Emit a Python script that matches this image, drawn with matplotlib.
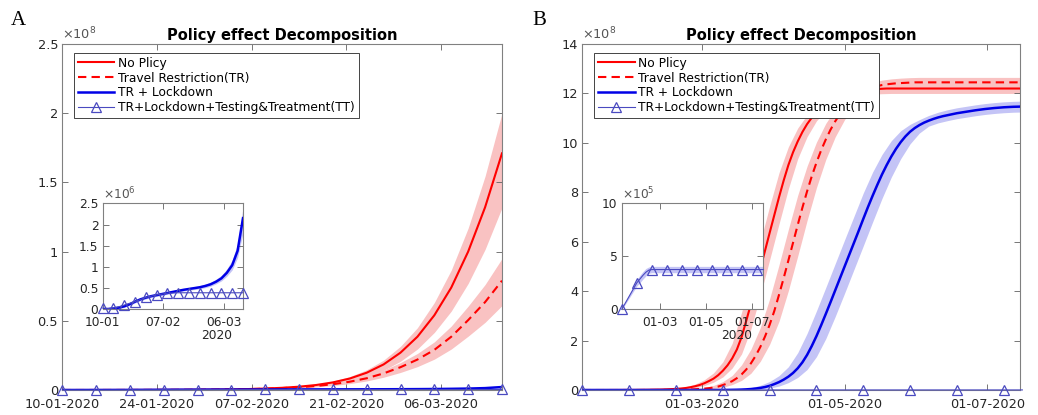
"""
Descomposicion del efecto de politicas (paneles A y B) con insets.
Genera out.png
"""
import datetime as dt
import matplotlib
matplotlib.use("Agg")
import matplotlib.pyplot as plt
import matplotlib.dates as mdates
import numpy as np
from matplotlib.lines import Line2D
from matplotlib.ticker import FuncFormatter

INICIO = dt.datetime(2020, 1, 10)

# ---------------- Panel A (dias desde 10-01-2020, valores x1e8) ----------------
dias_a = [0, 2.5, 5, 7.5, 10, 12.5, 15, 17.5, 20, 22.5, 25, 27.5, 30, 32.5,
          35, 37.5, 40, 42.5, 45, 47.5, 50, 52.5, 55, 57.5, 60, 62.5, 65]

a_sin = [0.0001, 0.0001, 0.0002, 0.0003, 0.0004, 0.0006, 0.0009, 0.0013, 0.002, 0.003,
         0.0046, 0.007, 0.0105, 0.016, 0.024, 0.036, 0.055, 0.083, 0.125, 0.185,
         0.27, 0.385, 0.54, 0.74, 1.00, 1.32, 1.71]
a_sin_hi = [0.0001, 0.0001, 0.0002, 0.0004, 0.0005, 0.0007, 0.0011, 0.0015, 0.0023, 0.0035,
            0.0054, 0.0082, 0.0123, 0.0187, 0.028, 0.042, 0.064, 0.097, 0.146, 0.216,
            0.316, 0.45, 0.632, 0.866, 1.17, 1.545, 2.0]
a_sin_lo = [0.0001, 0.0001, 0.0002, 0.0002, 0.0003, 0.0005, 0.0007, 0.001, 0.0015, 0.0023,
            0.0035, 0.0054, 0.0081, 0.0123, 0.0185, 0.0277, 0.042, 0.064, 0.096, 0.142,
            0.208, 0.296, 0.416, 0.57, 0.77, 1.016, 1.317]

a_tr = [0.0001, 0.0001, 0.0002, 0.0003, 0.0005, 0.0007, 0.001, 0.0014, 0.002, 0.003,
        0.0045, 0.0065, 0.0095, 0.014, 0.02, 0.029, 0.042, 0.06, 0.085, 0.12,
        0.165, 0.22, 0.29, 0.385, 0.505, 0.635, 0.79]
a_tr_hi = [0.0001, 0.0001, 0.0002, 0.0004, 0.0006, 0.0008, 0.0012, 0.0017, 0.0024, 0.0036,
           0.0054, 0.0078, 0.0114, 0.0168, 0.024, 0.035, 0.05, 0.072, 0.102, 0.144,
           0.198, 0.264, 0.348, 0.462, 0.606, 0.762, 0.95]
a_tr_lo = [0.0001, 0.0001, 0.0002, 0.0002, 0.0004, 0.0005, 0.0008, 0.0011, 0.0015, 0.0023,
           0.0035, 0.005, 0.0073, 0.0108, 0.0154, 0.0223, 0.0323, 0.0462, 0.0655, 0.0924,
           0.127, 0.169, 0.223, 0.296, 0.389, 0.489, 0.61]

# TR + Lockdown y TT en x1e6 (escala del inset)
a_lock = [0.0, 0.005, 0.02, 0.04, 0.07, 0.12, 0.18, 0.235, 0.275, 0.31,
          0.335, 0.36, 0.385, 0.41, 0.435, 0.46, 0.48, 0.5, 0.52, 0.55,
          0.59, 0.65, 0.73, 0.86, 1.04, 1.38, 2.15]
a_lock_hi = [0.01, 0.02, 0.04, 0.065, 0.1, 0.15, 0.21, 0.265, 0.305, 0.34,
             0.365, 0.39, 0.415, 0.44, 0.465, 0.49, 0.515, 0.535, 0.56, 0.595,
             0.64, 0.71, 0.8, 0.95, 1.16, 1.55, 2.4]
a_lock_lo = [0.0, 0.0, 0.005, 0.02, 0.045, 0.09, 0.15, 0.205, 0.245, 0.28,
             0.305, 0.33, 0.355, 0.38, 0.405, 0.43, 0.45, 0.465, 0.485, 0.51,
             0.545, 0.6, 0.67, 0.78, 0.93, 1.22, 1.8]
a_tt = [0.03, 0.02, 0.03, 0.06, 0.1, 0.14, 0.18, 0.23, 0.28, 0.31,
        0.34, 0.36, 0.38, 0.385] + [0.39] * 13

# ---------------- Panel B (dias desde 10-01-2020, valores x1e8) ----------------
# lineas centrales: malla mas fina en la zona de subida
dias_b_linea = list(range(0, 41, 4)) + list(range(42, 161, 2)) + list(range(164, 189, 4))

b_sin = ([0, 0, 0, 0.001, 0.002, 0.003, 0.005, 0.01, 0.016, 0.027, 0.045] +
         [0.06, 0.08, 0.11, 0.15, 0.2, 0.27, 0.36, 0.46, 0.6, 0.78,
          1.0, 1.28, 1.64, 2.14, 2.8, 3.48, 4.18, 4.9, 5.63, 6.36,
          7.08, 7.8, 8.48, 9.1, 9.62, 10.06, 10.44, 10.76, 11.02, 11.24,
          11.42, 11.57, 11.7, 11.8, 11.88, 11.95, 12.01, 12.06, 12.1, 12.13,
          12.15, 12.17, 12.18, 12.19, 12.2] + [12.2] * 22)
b_tr = ([0, 0, 0, 0, 0, 0.001, 0.001, 0.002, 0.003, 0.005, 0.008] +
        [0.012, 0.017, 0.023, 0.031, 0.042, 0.056, 0.075, 0.1, 0.14, 0.2,
         0.27, 0.36, 0.48, 0.63, 0.83, 1.08, 1.38, 1.74, 2.16, 2.64,
         3.2, 3.85, 4.53, 5.24, 5.96, 6.68, 7.38, 8.04, 8.65, 9.2,
         9.7, 10.14, 10.53, 10.87, 11.16, 11.41, 11.62, 11.8, 11.95, 12.07,
         12.17, 12.24, 12.3, 12.34, 12.37, 12.39, 12.41, 12.42, 12.43, 12.44] +
        [12.45] * 17)
b_lock = ([0] * 11 +
          [0, 0, 0, 0, 0, 0, 0.001, 0.001, 0.002, 0.003,
           0.005, 0.008, 0.012, 0.018, 0.027, 0.04, 0.06, 0.085, 0.12, 0.17,
           0.24, 0.32, 0.42, 0.54, 0.69, 0.88, 1.12, 1.42, 1.78, 2.18,
           2.62, 3.08, 3.55, 4.03, 4.51, 4.99, 5.47, 5.95, 6.43, 6.92,
           7.4, 7.86, 8.3, 8.72, 9.1, 9.45, 9.76, 10.03, 10.26, 10.45,
           10.6, 10.72, 10.82, 10.9, 10.97, 11.03, 11.08, 11.12, 11.16, 11.2] +
          [11.26, 11.32, 11.37, 11.41, 11.44, 11.46, 11.47])

# bandas y TT: malla cada 4 dias
dias_b = list(range(0, 189, 4))

b_sin_hi = ([0, 0, 0.001, 0.001, 0.002, 0.004, 0.007, 0.012, 0.02, 0.035] +
            [0.07, 0.13, 0.235, 0.41, 0.69, 1.14, 1.89, 3.14, 4.54, 6.0,
             7.44, 8.79, 9.84, 10.6, 11.13, 11.5, 11.77, 12.0, 12.15, 12.26,
             12.33, 12.37, 12.39] + [12.4] * 15)
b_sin_lo = ([0, 0, 0, 0, 0.001, 0.002, 0.004, 0.007, 0.012, 0.02] +
            [0.03, 0.052, 0.095, 0.175, 0.315, 0.53, 0.89, 1.46, 2.47, 3.83,
             5.27, 6.72, 8.14, 9.36, 10.25, 10.89, 11.33, 11.6, 11.75, 11.86,
             11.93, 11.97, 11.99] + [12.0] * 15)
b_tr_hi = ([0, 0, 0, 0, 0, 0.001, 0.002, 0.004, 0.006, 0.01] +
           [0.016, 0.029, 0.052, 0.094, 0.185, 0.34, 0.59, 1.02, 1.65, 2.52,
            3.69, 5.06, 6.5, 7.88, 9.06, 10.03, 10.79, 11.36, 11.76, 12.04,
            12.27, 12.44, 12.54, 12.59, 12.62, 12.64] + [12.65] * 12)
b_tr_lo = ([0, 0, 0, 0, 0, 0, 0.001, 0.002, 0.003, 0.004] +
           [0.006, 0.01, 0.018, 0.034, 0.061, 0.11, 0.22, 0.39, 0.68, 1.16,
            1.85, 2.78, 4.02, 5.42, 6.86, 8.19, 9.33, 10.24, 10.94, 11.46,
            11.85, 12.04, 12.14, 12.19, 12.22, 12.24] + [12.25] * 12)
b_lock_hi = ([0] * 13 +
             [0.001, 0.0035, 0.009, 0.02, 0.045, 0.094, 0.19, 0.345, 0.58, 0.94,
              1.51, 2.29, 3.2, 4.15, 5.11, 6.07, 7.02, 7.97, 8.82, 9.53,
              10.09, 10.49, 10.75, 10.94, 11.11, 11.24, 11.34, 11.42, 11.48, 11.54,
              11.59, 11.63, 11.66, 11.68, 11.69])
b_lock_lo = ([0] * 15 +
             [0.001, 0.003, 0.007, 0.016, 0.037, 0.079, 0.158, 0.3, 0.51, 0.83,
              1.35, 2.08, 2.97, 3.91, 4.87, 5.83, 6.8, 7.75, 8.62, 9.36,
              9.96, 10.4, 10.68, 10.81, 10.9, 10.98, 11.04, 11.1, 11.15, 11.19,
              11.22, 11.24, 11.25])

# TT en x1e5 (escala del inset B)
b_tt = [0, 0.5, 1.0, 1.5, 2.0, 2.5, 2.85, 3.2, 3.5, 3.7] + [3.75] * 38
b_tt_hi = [0.1, 0.6, 1.15, 1.7, 2.25, 2.8, 3.2, 3.55, 3.85, 4.0] + [4.05] * 38
b_tt_lo = [0, 0.4, 0.85, 1.3, 1.75, 2.2, 2.5, 2.85, 3.15, 3.4] + [3.45] * 38

etiquetas = ["No Plicy", "Travel Restriction(TR)", "TR + Lockdown",
             "TR+Lockdown+Testing&Treatment(TT)"]

ROJO, AZUL, AZUL_TT = "#ff0000", "#0000e6", "#4a4ac0"
BANDA_R, BANDA_A = "#f9c2c2", "#c4c4f6"
GRIS = "#262626"


def fechas(dias):
    return [INICIO + dt.timedelta(days=float(d)) for d in dias]


def estilo(ax, fs, padx):
    for s in ax.spines.values():
        s.set_color("#808080")
        s.set_linewidth(0.8)
    ax.tick_params(direction="in", top=True, right=True, length=4, width=0.6,
                   color="#606060", labelsize=fs, labelcolor=GRIS, pad=3)
    ax.tick_params(axis="x", pad=padx)
    ax.yaxis.set_major_formatter(FuncFormatter(lambda v, p: f"{v:g}"))


def banda(ax, x, lo, hi, color):
    ax.fill_between(x, lo, hi, color=color, lw=0, zorder=1)


def escala(ax, exp, fs):
    ax.text(0.0, 1.005, r"$\times10^{%d}$" % exp, transform=ax.transAxes,
            ha="left", va="bottom", fontsize=fs, color="#555555")


def linea_tt(ax, x, y, cada):
    ax.plot(x, y, color=AZUL_TT, lw=0.8, marker="^", ms=7, mfc="none",
            mec=AZUL_TT, mew=0.9, markevery=cada, zorder=5, clip_on=False)


fig = plt.figure(figsize=(10.38, 4.15), dpi=100)
axA = fig.add_axes([0.0600, 0.0602, 0.4236, 0.8337])
axB = fig.add_axes([0.5611, 0.0602, 0.4216, 0.8337])

# ---- Panel A ----
xa = fechas(dias_a)
f_a = 1 / 100  # x1e6 -> x1e8
banda(axA, xa, a_sin_lo, a_sin_hi, BANDA_R)
banda(axA, xa, a_tr_lo, a_tr_hi, BANDA_R)
banda(axA, xa, np.array(a_lock_lo) * f_a, np.array(a_lock_hi) * f_a, BANDA_A)
axA.plot(xa, a_sin, color=ROJO, lw=1.5, zorder=3)
axA.plot(xa, a_tr, color=ROJO, lw=1.5, ls=(0, (4, 2.5)), zorder=3)
axA.plot(xa, np.array(a_lock) * f_a, color=AZUL, lw=1.8, zorder=4)
linea_tt(axA, xa, np.array(a_tt) * f_a, 2)
axA.set_xlim(fechas([0, 65]))
axA.set_ylim(0, 2.5)
axA.set_yticks([0, 0.5, 1, 1.5, 2, 2.5])
axA.set_xticks(fechas([0, 14, 28, 42, 56]))
axA.xaxis.set_major_formatter(mdates.DateFormatter("%d-%m-%Y"))

# ---- Panel B ----
xb = fechas(dias_b)
xbl = fechas(dias_b_linea)
banda(axB, xb, b_sin_lo, b_sin_hi, BANDA_R)
banda(axB, xb, b_tr_lo, b_tr_hi, BANDA_R)
banda(axB, xb, b_lock_lo, b_lock_hi, BANDA_A)
axB.plot(xbl, b_sin, color=ROJO, lw=1.5, zorder=3)
axB.plot(xbl, b_tr, color=ROJO, lw=1.5, ls=(0, (4, 2.5)), zorder=3)
axB.plot(xbl, b_lock, color=AZUL, lw=1.8, zorder=4)
linea_tt(axB, xb, np.array(b_tt) / 1000, 5)
axB.set_xlim(fechas([0, 187]))
axB.set_ylim(0, 14)
axB.set_yticks(range(0, 15, 2))
axB.set_xticks([dt.datetime(2020, 3, 1), dt.datetime(2020, 5, 1), dt.datetime(2020, 7, 1)])
axB.xaxis.set_major_formatter(mdates.DateFormatter("%d-%m-%Y"))

proxies = [Line2D([], [], color=ROJO, lw=1.5),
           Line2D([], [], color=ROJO, lw=1.5, ls=(0, (4, 2.5))),
           Line2D([], [], color=AZUL, lw=1.8),
           Line2D([], [], color=AZUL_TT, lw=0.8, marker="^", ms=7, mfc="none", mew=0.9)]

for ax, letra, xl in [(axA, "A", 0.018), (axB, "B", 0.52)]:
    estilo(ax, 9.3, 6)
    ax.set_title("Policy effect Decomposition", fontsize=10.5, fontweight="bold", pad=3)
    escala(ax, 8, 9.3)
    leg = ax.legend(proxies, etiquetas, loc="upper left", bbox_to_anchor=(0.027, 0.974),
                    borderaxespad=0, fontsize=8.8, handlelength=3.0, labelspacing=0.15,
                    handletextpad=0.3, borderpad=0.3, numpoints=1, fancybox=False,
                    framealpha=1, edgecolor=GRIS)
    leg.get_frame().set_linewidth(0.6)
    leg.set_zorder(10)
    fig.text(xl, 0.95, letra, fontsize=15, family="Liberation Serif", ha="center", va="center")

# ---- Inset A ----
inA = fig.add_axes([0.0989, 0.2547, 0.1352, 0.2554])
banda(inA, xa, a_lock_lo, a_lock_hi, BANDA_A)
inA.plot(xa, a_lock, color=AZUL, lw=1.8, zorder=3)
linea_tt(inA, xa, a_tt, 2)
inA.set_xlim(fechas([0, 65]))
inA.set_ylim(0, 2.5)
inA.set_yticks([0, 0.5, 1, 1.5, 2, 2.5])
inA.set_xticks(fechas([0, 28, 56]))
inA.xaxis.set_major_formatter(mdates.DateFormatter("%d-%m"))
estilo(inA, 8.8, 5)
escala(inA, 6, 8.8)
inA.text(0.81, -0.25, "2020", transform=inA.transAxes, ha="center", va="center",
         fontsize=8.8, color=GRIS)

# ---- Inset B ----
inB = fig.add_axes([0.5990, 0.2547, 0.1358, 0.2554])
banda(inB, xb, b_tt_lo, b_tt_hi, BANDA_A)
linea_tt(inB, xb, b_tt, 5)
inB.set_xlim(fechas([0, 187]))
inB.set_ylim(0, 10)
inB.set_yticks([0, 5, 10])
inB.set_xticks([dt.datetime(2020, 3, 1), dt.datetime(2020, 5, 1), dt.datetime(2020, 7, 1)])
inB.xaxis.set_major_formatter(mdates.DateFormatter("%d-%m"))
estilo(inB, 8.8, 5)
escala(inB, 5, 8.8)
inB.text(0.816, -0.25, "2020", transform=inB.transAxes, ha="center", va="center",
         fontsize=8.8, color=GRIS)

fig.savefig("out.png", dpi=100, facecolor="white")
